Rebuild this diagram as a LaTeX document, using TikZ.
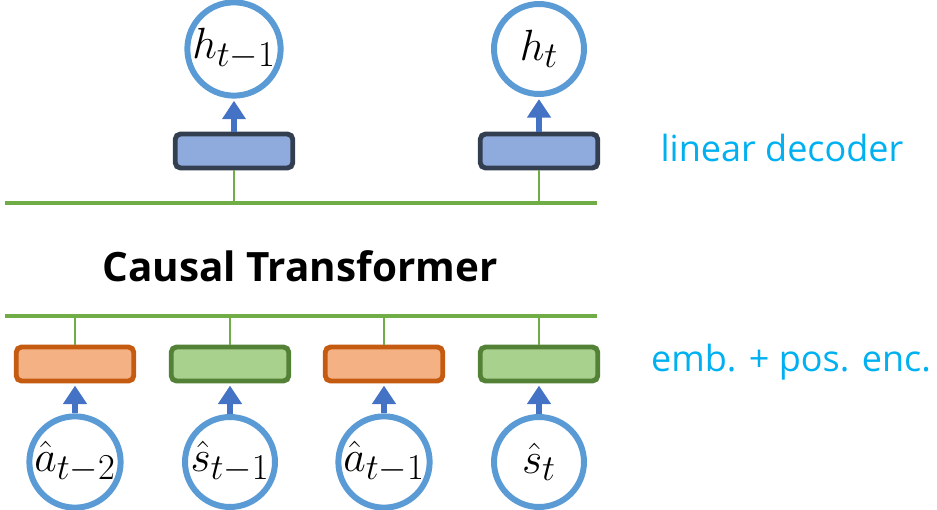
\documentclass[tikz,border=0pt]{standalone}
\usepackage{amsmath,amssymb}
\usepackage{fontspec}
\usepackage{tikz}
\usetikzlibrary{arrows.meta, positioning, calc}
\newfontfamily\labelfont{Open Sans}
\definecolor{ringblue}{HTML}{5B9BD5}
\definecolor{arrowblue}{HTML}{4472C4}
\definecolor{decfill}{HTML}{8FAADC}
\definecolor{decline}{HTML}{333F50}
\definecolor{actfill}{HTML}{F4B183}
\definecolor{actline}{HTML}{C55A11}
\definecolor{stfill}{HTML}{A9D18E}
\definecolor{stline}{HTML}{538135}
\definecolor{busgreen}{HTML}{70AD47}
\definecolor{notecyan}{HTML}{00B0F0}

\begin{document}
\begin{tikzpicture}[x=0.02cm, y=-0.02cm,
  token/.style={circle, draw=ringblue, line width=3.4pt, fill=white, minimum size=1.8cm, inner sep=0pt, font=\fontsize{28}{32}\selectfont},
  decbox/.style={rectangle, draw=decline, fill=decfill, line width=2.8pt, minimum width=2.35cm, minimum height=0.68cm, rounded corners=3pt},
  actbox/.style={decbox, draw=actline, fill=actfill},
  stbox/.style={decbox, draw=stline, fill=stfill},
  arrow/.style={-{Triangle[width=13pt, length=10.5pt]}, line width=3.4pt, arrowblue, shorten >=1.2pt},
  bus/.style={busgreen, line width=2.3pt},
  tap/.style={busgreen, line width=1.2pt},
  note/.style={font=\labelfont\fontsize{20.5}{24}\selectfont, text=notecyan}
]
\useasboundingbox (0,0) rectangle (937,510);

% outputs
\node[token] (h1) at (234,49) {$h_{t-1}$};
\node[token] (h2) at (539,49) {$h_{t}$};
\node[decbox] (dec1) at (234,151) {};
\node[decbox] (dec2) at (539,151) {};

% transformer rails
\coordinate (tl) at (5,203);
\coordinate (tr) at (597,203);
\coordinate (bl) at (5,316);
\coordinate (br) at (597,316);
\draw[bus] (tl) -- (tr);
\draw[bus] (bl) -- (br);
\node[font=\labelfont\bfseries\fontsize{23}{27}\selectfont] (ct) at (300,266) {Causal Transformer};

% inputs
\node[actbox] (emb1) at (75,364) {};
\node[stbox] (emb2) at (230,364) {};
\node[actbox] (emb3) at (384,364) {};
\node[stbox] (emb4) at (539,364) {};
\node[token] (in1) at (75,462) {$\hat{a}_{t-2}$};
\node[token] (in2) at (230,462) {$\hat{s}_{t-1}$};
\node[token] (in3) at (384,462) {$\hat{a}_{t-1}$};
\node[token] (in4) at (539,462) {$\hat{s}_{t}$};

\draw[arrow] (dec1) -- (h1);
\draw[arrow] (dec2) -- (h2);
\draw[tap] (dec1.south) -- (dec1.south |- tl);
\draw[tap] (dec2.south) -- (dec2.south |- tl);

\foreach \i in {1,...,4}{
  \draw[arrow] (in\i) -- (emb\i);
  \draw[tap] (emb\i.north) -- (emb\i.north |- bl);
}

\node[note] (ld) at (782,148) {linear decoder};
\node[note] (pe) at (791,362) {emb. + pos. enc.};
\end{tikzpicture}
\end{document}
